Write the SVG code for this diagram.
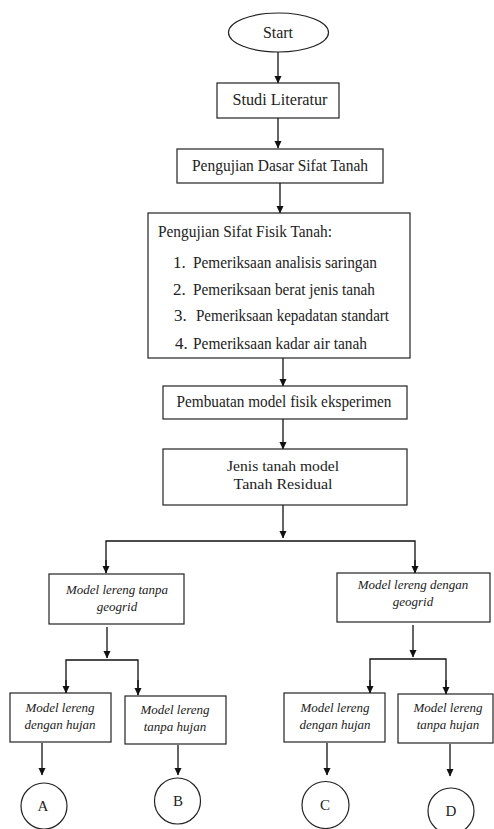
<svg xmlns="http://www.w3.org/2000/svg" width="494" height="829" viewBox="0 0 494 829">
<style>
.box{fill:#fff;stroke:#222;stroke-width:1.2}
.t{font-family:"Liberation Serif","Times New Roman",serif;font-size:17px;fill:#222}
.ti{font-family:"Liberation Serif","Times New Roman",serif;font-size:13px;font-style:italic;fill:#222;text-anchor:middle}
.tc{font-family:"Liberation Serif","Times New Roman",serif;font-size:17px;fill:#222;text-anchor:middle}
.ts{font-size:14px}
.tl{font-size:15px}
.c{fill:none;stroke:#111;stroke-width:1.3}
</style>
<defs>
<marker id="ah" markerWidth="8" markerHeight="8" refX="7" refY="4" orient="auto" markerUnits="userSpaceOnUse">
<path d="M0,0.5 L7.5,4 L0,7.5 Z" fill="#111"/>
</marker>
</defs>
<rect width="494" height="829" fill="#fff"/>
<g id="connectors">
<line class="c" x1="278" y1="52" x2="278" y2="83" marker-end="url(#ah)"/>
<line class="c" x1="278" y1="118" x2="278" y2="148" marker-end="url(#ah)"/>
<line class="c" x1="280" y1="183" x2="280" y2="213" marker-end="url(#ah)"/>
<line class="c" x1="283" y1="358" x2="283" y2="386" marker-end="url(#ah)"/>
<line class="c" x1="283" y1="419" x2="283" y2="449" marker-end="url(#ah)"/>
<line class="c" x1="283" y1="505" x2="283" y2="538" marker-end="url(#ah)"/>
<polyline class="c" points="106,573 106,541 415,541 415,573" />
<line class="c" x1="106" y1="560" x2="106" y2="573" marker-end="url(#ah)"/>
<line class="c" x1="415" y1="560" x2="415" y2="573" marker-end="url(#ah)"/>
<line class="c" x1="107" y1="627" x2="107" y2="658" marker-end="url(#ah)"/>
<polyline class="c" points="66,693 66,660 138,660 138,695"/>
<line class="c" x1="66" y1="680" x2="66" y2="693" marker-end="url(#ah)"/>
<line class="c" x1="138" y1="680" x2="138" y2="695" marker-end="url(#ah)"/>
<line class="c" x1="413" y1="625" x2="413" y2="657" marker-end="url(#ah)"/>
<polyline class="c" points="370,693 370,659 446,659 446,694"/>
<line class="c" x1="370" y1="680" x2="370" y2="693" marker-end="url(#ah)"/>
<line class="c" x1="446" y1="680" x2="446" y2="694" marker-end="url(#ah)"/>
<line class="c" x1="42" y1="743" x2="42" y2="775" marker-end="url(#ah)"/>
<line class="c" x1="178" y1="745" x2="178" y2="775" marker-end="url(#ah)"/>
<line class="c" x1="327" y1="743" x2="327" y2="775" marker-end="url(#ah)"/>
<line class="c" x1="450" y1="744" x2="450" y2="776" marker-end="url(#ah)"/>
</g>
<g id="start">
<ellipse class="box" cx="278.5" cy="32.5" rx="50" ry="19.5"/>
<text class="tc" x="278" y="38" textLength="30" lengthAdjust="spacingAndGlyphs">Start</text>
</g>
<g id="studi">
<rect class="box" x="217" y="83" width="122" height="35"/>
<text class="tc" x="280" y="105" textLength="95" lengthAdjust="spacingAndGlyphs">Studi Literatur</text>
</g>
<g id="dasar">
<rect class="box" x="177" y="149" width="206" height="34"/>
<text class="tc" x="280" y="171" textLength="176" lengthAdjust="spacingAndGlyphs">Pengujian Dasar Sifat Tanah</text>
</g>
<g id="fisik">
<rect class="box" x="148" y="213" width="262" height="145"/>
<text class="t" x="158" y="237" textLength="174" lengthAdjust="spacingAndGlyphs">Pengujian Sifat Fisik Tanah:</text>
<text class="t" x="173" y="268">1.</text>
<text class="t" x="193" y="268" textLength="184" lengthAdjust="spacingAndGlyphs">Pemeriksaan analisis saringan</text>
<text class="t" x="173" y="295">2.</text>
<text class="t" x="193" y="295" textLength="182" lengthAdjust="spacingAndGlyphs">Pemeriksaan berat jenis tanah</text>
<text class="t" x="174" y="321">3.</text>
<text class="t" x="196" y="321" textLength="193" lengthAdjust="spacingAndGlyphs">Pemeriksaan kepadatan standart</text>
<text class="t" x="175" y="349">4.</text>
<text class="t" x="193" y="349" textLength="174" lengthAdjust="spacingAndGlyphs">Pemeriksaan kadar air tanah</text>
</g>
<g id="pembuatan">
<rect class="box" x="163" y="386" width="244" height="33"/>
<text class="tc" x="284" y="407" textLength="215" lengthAdjust="spacingAndGlyphs">Pembuatan model fisik eksperimen</text>
</g>
<g id="jenis">
<rect class="box" x="163" y="449" width="244" height="56"/>
<text class="tc ts" x="283" y="471" textLength="112" lengthAdjust="spacingAndGlyphs">Jenis tanah model</text>
<text class="tc ts" x="283" y="489" textLength="99" lengthAdjust="spacingAndGlyphs">Tanah Residual</text>
</g>
<g id="tanpa-geogrid">
<rect class="box" x="49" y="574" width="135" height="50"/>
<text class="ti" x="117" y="594">Model lereng tanpa</text>
<text class="ti" x="117" y="611">geogrid</text>
</g>
<g id="dengan-geogrid">
<rect class="box" x="337" y="573" width="153" height="49"/>
<text class="ti" x="413" y="589">Model lereng dengan</text>
<text class="ti" x="413" y="606">geogrid</text>
</g>
<g id="tg-dengan-hujan">
<rect class="box" x="10" y="693" width="101" height="49"/>
<text class="ti" x="60" y="712">Model lereng</text>
<text class="ti" x="60" y="729">dengan hujan</text>
</g>
<g id="tg-tanpa-hujan">
<rect class="box" x="125" y="696" width="101" height="48"/>
<text class="ti" x="175" y="714">Model lereng</text>
<text class="ti" x="175" y="731">tanpa hujan</text>
</g>
<g id="dg-dengan-hujan">
<rect class="box" x="284" y="693" width="101" height="49"/>
<text class="ti" x="335" y="712">Model lereng</text>
<text class="ti" x="335" y="729">dengan hujan</text>
</g>
<g id="dg-tanpa-hujan">
<rect class="box" x="398" y="694" width="95" height="49"/>
<text class="ti" x="448" y="712">Model lereng</text>
<text class="ti" x="448" y="729">tanpa hujan</text>
</g>
<g id="A">
<circle class="box" cx="44" cy="806" r="23"/>
<text class="tc tl" x="43" y="811">A</text>
</g>
<g id="B">
<circle class="box" cx="177.5" cy="801" r="23"/>
<text class="tc tl" x="178" y="806">B</text>
</g>
<g id="C">
<circle class="box" cx="325.5" cy="805" r="23.5"/>
<text class="tc tl" x="325" y="810">C</text>
</g>
<g id="D">
<circle class="box" cx="451" cy="811" r="23"/>
<text class="tc tl" x="451" y="816">D</text>
</g>
</svg>
